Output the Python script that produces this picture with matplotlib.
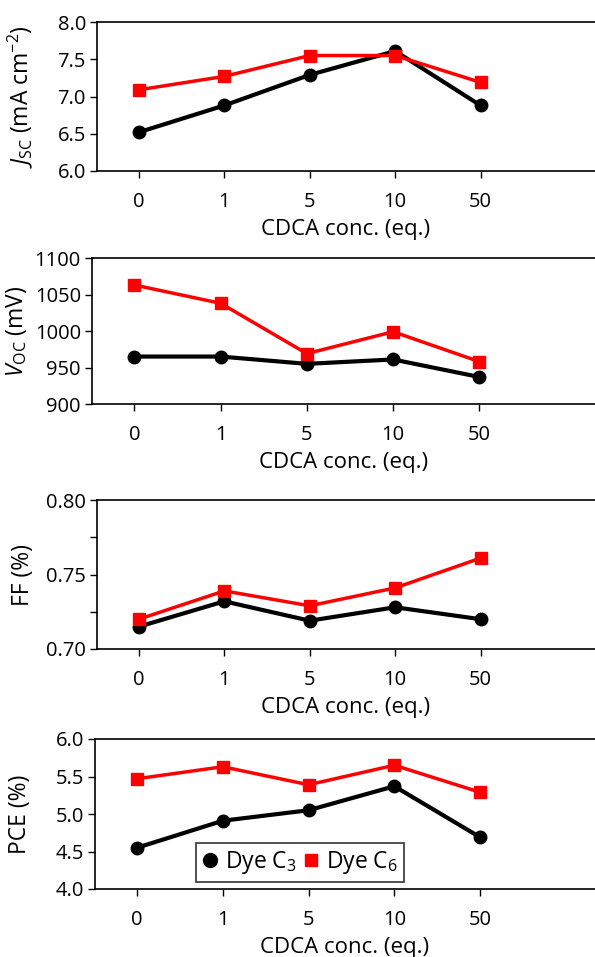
import numpy as np
import matplotlib
matplotlib.use("Agg")
import matplotlib.pyplot as plt
from matplotlib.lines import Line2D

plt.rcParams['font.family'] = ['Open Sans', 'DejaVu Sans']
plt.rcParams['mathtext.fontset'] = 'custom'
plt.rcParams['mathtext.rm'] = 'Open Sans'
plt.rcParams['mathtext.it'] = 'Open Sans:italic'

conc_labels = ['0', '1', '5', '10', '50']

jsc_c3 = [6.52, 6.88, 7.29, 7.61, 6.88]
jsc_c6 = [7.09, 7.27, 7.55, 7.55, 7.19]
voc_c3 = [965, 965, 955, 961, 937]
voc_c6 = [1063, 1038, 969, 999, 958]
ff_c3 = [0.715, 0.732, 0.719, 0.728, 0.720]
ff_c6 = [0.720, 0.739, 0.729, 0.741, 0.761]
pce_c3 = [4.55, 4.91, 5.05, 5.37, 4.69]
pce_c6 = [5.47, 5.63, 5.39, 5.65, 5.29]

W, H = 595, 957
fig = plt.figure(figsize=(W / 100, H / 100), dpi=100)

# axes boxes in pixels: left, top, bottom
boxes = [(97, 22, 171), (92, 258, 404), (97, 500, 649), (95, 739, 889)]
panels = [
    (jsc_c3, jsc_c6, r'$J_{\rm SC}$ (mA cm$^{-2}$)', (6.0, 8.0), [6.0, 6.5, 7.0, 7.5, 8.0], '%.1f', None),
    (voc_c3, voc_c6, r'$V_{\rm OC}$ (mV)', (900, 1100), [900, 950, 1000, 1050, 1100], '%d', None),
    (ff_c3, ff_c6, 'FF (%)', (0.70, 0.80), [0.70, 0.75, 0.80], '%.2f', [0.725, 0.775]),
    (pce_c3, pce_c6, 'PCE (%)', (4.0, 6.0), [4.0, 4.5, 5.0, 5.5, 6.0], '%.1f', None),
]

x = np.arange(len(conc_labels))
font = 13.5

for (left, top, bottom), (c3, c6, ylab, ylim, yt, fmt, minor) in zip(boxes, panels):
    ax = fig.add_axes([left / W, 1 - bottom / H, 1 - left / W, (bottom - top) / H])
    ax.plot(x, c3, '-o', color='black', lw=3, ms=9, zorder=3)
    ax.plot(x, c6, '-s', color='#ff0000', lw=2.5, ms=8.5, zorder=4)
    ax.set_xlim(-0.49, 5.34)
    ax.set_ylim(*ylim)
    ax.set_yticks(yt)
    ax.set_yticklabels([fmt % v for v in yt])
    if minor:
        ax.set_yticks(minor, minor=True)
        ax.tick_params(axis='y', which='minor', length=5, width=1, direction='out')
    ax.set_xticks(x)
    ax.set_xticklabels(conc_labels)
    ax.tick_params(axis='both', labelsize=font + 1, length=5, width=1, direction='out')
    ax.tick_params(axis='x', pad=10)
    ax.tick_params(axis='y', pad=3)
    ax.set_xlabel('CDCA conc. (eq.)', fontsize=font + 2.5, labelpad=5)
    ax.set_ylabel(ylab, fontsize=font + 3)
    ax.yaxis.set_label_coords(-0.125, 0.5)
    ax.spines['right'].set_visible(False)
    for s in ['left', 'bottom', 'top']:
        ax.spines[s].set_linewidth(1.2)

handles = [
    Line2D([], [], ls='none', marker='o', color='black', ms=10),
    Line2D([], [], ls='none', marker='s', color='#ff0000', ms=9),
]
leg = ax.legend(handles, [r'Dye C$_3$', r'Dye C$_6$'], ncol=2, loc='lower center',
                bbox_to_anchor=(0.41, 0.05), fontsize=font + 3, frameon=True, fancybox=False,
                handlelength=0.7, handletextpad=0.3, columnspacing=0.3, borderpad=0.25,
                borderaxespad=0)
leg.get_frame().set_edgecolor('black')
leg.get_frame().set_linewidth(1.2)

fig.savefig('out.png', dpi=100)
